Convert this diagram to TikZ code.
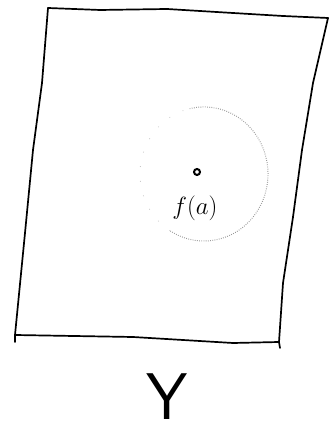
\documentclass[tikz,border=0pt]{standalone}
\tikzset{
  edge/.style={line width=1.7pt, line cap=round, line join=round},
  nbhd/.style={gray!80, line width=1pt, dash pattern=on 0.8pt off 1.4pt},
  nbhdfaint/.style={gray!45, line width=0.8pt, dash pattern=on 0.8pt off 14pt},
}
\begin{document}
\begin{tikzpicture}[x=1pt,y=1pt]
\useasboundingbox (0,0) rectangle (330,435);
% set Y drawn as quadrilateral
\coordinate (tl) at (48,427);
\coordinate (tr) at (328,417);
\coordinate (br) at (279,93);
\coordinate (bl) at (15,100);
\draw[edge] (tl) -- (100,425) -- (167,426) -- (233,422) -- (283,419) -- (tr);
\draw[edge] (tr) -- (313,352) -- (302,285) -- (293,218) -- (283,152) -- (br) -- (280,87);
\draw[edge] (br) -- (233,92) -- (133,98) -- (bl);
\draw[edge] (15,93) -- (bl) -- (25,202) -- (33,285) -- (42,352) -- (tl);
% neighbourhood
\coordinate (c) at (204,261);
\draw[nbhd] (c) ++(103:64 and 67) arc[start angle=103, end angle=-122, x radius=64, y radius=67];
\draw[nbhdfaint] (c) ++(-122:64 and 67) arc[start angle=-122, end angle=-257, x radius=64, y radius=67];
% point
\node[circle, draw, line width=2pt, fill=white, inner sep=0pt, minimum size=6pt] (pt) at (197,263) {};
\node[font=\fontsize{26}{26}\selectfont] (lab) at (195,227) {$f(a)$};
\node[font=\fontsize{66}{66}\selectfont\sffamily, anchor=base, inner sep=0pt] (Y) at (167,16) {Y};
\end{tikzpicture}
\end{document}
